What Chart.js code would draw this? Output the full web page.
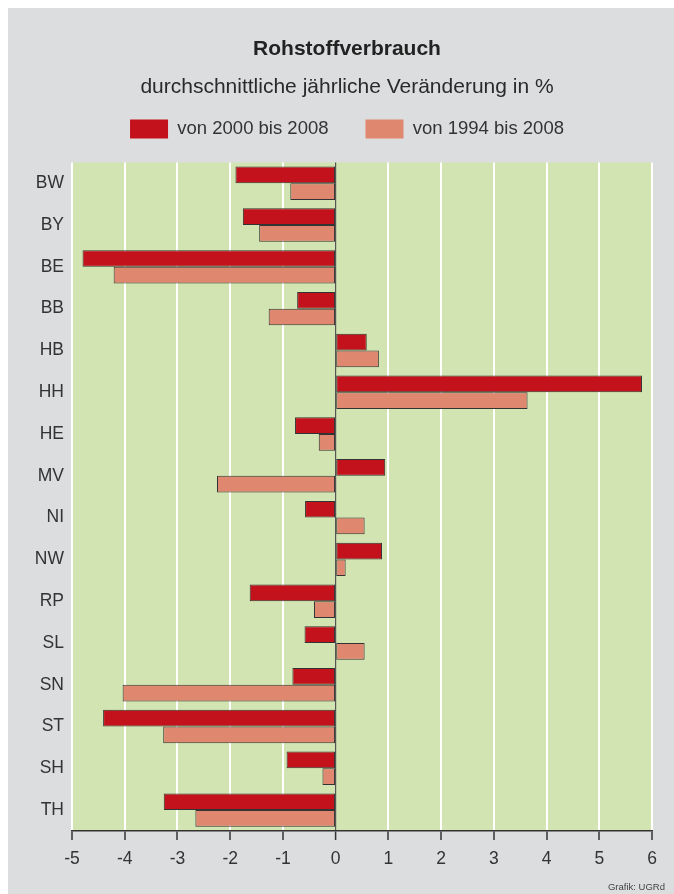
<!DOCTYPE html>
<html lang="de">
<head>
<meta charset="utf-8">
<title>Rohstoffverbrauch</title>
<script src="https://cdn.jsdelivr.net/npm/chart.js@4/dist/chart.umd.min.js"></script>
<style>
    html, body {
        margin: 0;
        padding: 0;
        background: #ffffff;
    }
    .panel {
        position: absolute;
        left: 8px;
        top: 8px;
        width: 666px;
        height: 886px;
        background: #dcdddf;
    }
    .panel canvas {
        position: absolute;
        left: 0;
        top: 0;
    }
    .credit {
        position: absolute;
        right: 9px;
        bottom: 2px;
        font-family: 'Liberation Sans', Arial, sans-serif;
        font-size: 9.5px;
        color: #444;
    }
</style>
</head>
<body>
<div class="panel">
    <canvas id="chart" width="666" height="886"></canvas>
    <div class="credit">Grafik: UGRd</div>
</div>
<script>
// Laender (top to bottom) and average yearly change in %
const laender = ['BW', 'BY', 'BE', 'BB', 'HB', 'HH', 'HE', 'MV', 'NI', 'NW', 'RP', 'SL', 'SN', 'ST', 'SH', 'TH'];
const von2000 = [-1.9, -1.76, -4.8, -0.73, 0.59, 5.81, -0.77, 0.94, -0.58, 0.88, -1.63, -0.59, -0.82, -4.41, -0.93, -3.26];
const von1994 = [-0.86, -1.45, -4.21, -1.27, 0.82, 3.64, -0.32, -2.25, 0.55, 0.19, -0.41, 0.55, -4.04, -3.27, -0.25, -2.66];
const xTicks = [-5, -4, -3, -2, -1, 0, 1, 2, 3, 4, 5, 6];

const FONT = "'Liberation Sans', Arial, sans-serif";
Chart.defaults.font.family = FONT;
Chart.defaults.color = '#333';

// paints the green plot background
const plotBackground = {
    id: 'plotBackground',
    beforeDraw(chart) {
        const { ctx, chartArea } = chart;
        ctx.save();
        ctx.fillStyle = '#d1e4b1';
        ctx.fillRect(chartArea.left, chartArea.top, chartArea.right - chartArea.left, chartArea.bottom - chartArea.top);
        ctx.restore();
    }
};

// empty axes only used to leave space around the plot
const spacer = (position, size) => ({
    type: 'linear',
    position,
    grid: { display: false, drawTicks: false },
    border: { display: false },
    ticks: { display: false },
    afterFit(scale) {
        if (scale.isHorizontal()) scale.height = size;
        else scale.width = size;
    }
});

new Chart(document.getElementById('chart'), {
    type: 'bar',
    data: {
        labels: laender,
        datasets: [
            {
                label: 'von 2000 bis 2008',
                data: von2000,
                backgroundColor: '#c3121b',
                borderColor: '#333',
                borderWidth: 1,
                borderSkipped: false,
                xAxisID: 'x',
                yAxisID: 'y'
            },
            {
                label: 'von 1994 bis 2008',
                data: von1994,
                backgroundColor: '#e0876f',
                borderColor: '#333',
                borderWidth: 1,
                borderSkipped: false,
                xAxisID: 'x',
                yAxisID: 'y'
            }
        ]
    },
    options: {
        indexAxis: 'y',
        responsive: false,
        animation: false,
        categoryPercentage: 0.8,
        barPercentage: 1.0,
        layout: {
            padding: { left: 12, right: 0, top: 0, bottom: 15 }
        },
        plugins: {
            tooltip: { enabled: false },
            title: {
                display: true,
                text: 'Rohstoffverbrauch',
                color: '#222',
                font: { size: 21, weight: 'bold' },
                padding: { top: 28.5, bottom: 0 }
            },
            subtitle: {
                display: true,
                text: 'durchschnittliche jährliche Veränderung in %',
                color: '#2a2a2a',
                font: { size: 21 },
                padding: { top: 12.5, bottom: -17 }
            },
            legend: {
                display: true,
                position: 'top',
                labels: {
                    boxWidth: 38,
                    boxHeight: 19,
                    padding: 37,
                    color: '#333',
                    font: { size: 18.5 },
                    generateLabels(chart) {
                        return Chart.defaults.plugins.legend.labels.generateLabels(chart)
                            .map(item => ({ ...item, lineWidth: 0 }));
                    }
                }
            }
        },
        scales: {
            x: {
                type: 'linear',
                position: 'bottom',
                min: -5,
                max: 6,
                afterBuildTicks(scale) {
                    scale.ticks = xTicks.map(v => ({ value: v }));
                },
                grid: {
                    color: c => (c.tick && c.tick.value === 0 ? '#555' : '#ffffff'),
                    lineWidth: c => (c.tick && c.tick.value === 0 ? 1.2 : 2),
                    tickColor: '#333',
                    tickWidth: 1.5,
                    tickLength: 9
                },
                border: { display: true, color: '#333', width: 1.5 },
                ticks: {
                    padding: 9,
                    color: '#333',
                    font: { size: 17.5 }
                }
            },
            y: {
                type: 'category',
                grid: { display: false, drawTicks: false },
                border: { display: false },
                afterFit(scale) {
                    scale.width = 52;
                },
                ticks: {
                    padding: 8,
                    color: '#333',
                    font: { size: 17.5 }
                }
            },
            spacerTop: spacer('top', 14),
            spacerRight: spacer('right', 22)
        }
    },
    plugins: [plotBackground]
});
</script>
</body>
</html>
